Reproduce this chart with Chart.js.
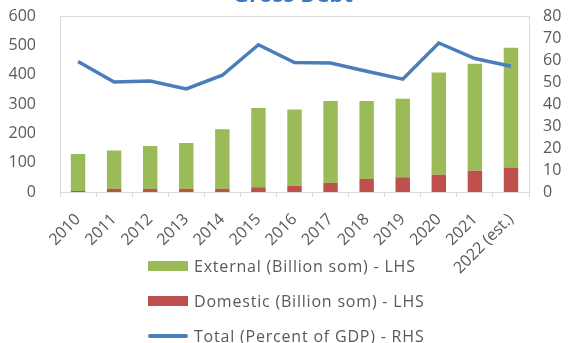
<!DOCTYPE html>
<html>
<head>
<meta charset="utf-8">
<script src="https://cdn.jsdelivr.net/npm/chart.js@4"></script>
<style>
    html, body { margin: 0; padding: 0; background: #fff; }
    #wrap { position: relative; width: 586px; height: 343px; overflow: hidden; }
    #box { position: absolute; left: 0; top: -20px; width: 586px; height: 363px; }
    #legend { position: absolute; left: 148px; top: 248px; font-family: 'Open Sans', sans-serif; font-size: 16px; letter-spacing: 0.8px; color: #595959; }
    .item { height: 35px; display: flex; align-items: center; white-space: nowrap; }
    .swatch { width: 40px; margin-right: 6px; }
</style>
</head>
<body>
<div id="wrap">
    <div id="box"><canvas id="debtChart"></canvas></div>
    <div id="legend"></div>
</div>
<script>
// Gross debt: external + domestic stock (billion som) and total as % of GDP
const years = ['2010', '2011', '2012', '2013', '2014', '2015', '2016', '2017', '2018', '2019', '2020', '2021', '2022 (est.)'];
const externalDebt = [127, 132, 147, 157, 204, 271, 261, 280, 267, 269, 349, 365, 409];
const domesticDebt = [3, 10, 10, 10, 10, 16, 21, 31, 44, 50, 59, 73, 84];
const totalPctGdp = [59.5, 50.1, 50.6, 47.0, 53.2, 67.1, 59.0, 58.8, 55.0, 51.4, 67.9, 60.8, 57.3];

const GREEN = '#9BBB59';
const RED = '#C0504D';
const BLUE = '#4A7EBB';
const TEXT = '#595959';
const EDGE = '#D9D9D9';

Chart.defaults.font.family = "'Open Sans', sans-serif";
Chart.defaults.color = TEXT;

// light frame around the plot area
const plotFrame = {
    id: 'plotFrame',
    beforeDatasetsDraw(chart) {
        const a = chart.chartArea;
        const ctx = chart.ctx;
        ctx.save();
        ctx.strokeStyle = EDGE;
        ctx.lineWidth = 1;
        ctx.strokeRect(Math.round(a.left) + 0.5, Math.round(a.top) + 0.5, Math.round(a.right - a.left), Math.round(a.bottom - a.top));
        ctx.restore();
    }
};

const chart = new Chart(document.getElementById('debtChart'), {
    type: 'bar',
    data: {
        labels: years,
        datasets: [
            {
                type: 'line',
                label: 'Total (Percent of GDP) - RHS',
                data: totalPctGdp,
                yAxisID: 'yRight',
                borderColor: BLUE,
                backgroundColor: BLUE,
                borderWidth: 3.5,
                pointRadius: 0,
                tension: 0,
                order: 0
            },
            {
                label: 'Domestic (Billion som) - LHS',
                data: domesticDebt,
                backgroundColor: RED,
                stack: 'debt',
                yAxisID: 'y',
                barPercentage: 0.4,
                categoryPercentage: 1,
                order: 1
            },
            {
                label: 'External (Billion som) - LHS',
                data: externalDebt,
                backgroundColor: GREEN,
                stack: 'debt',
                yAxisID: 'y',
                barPercentage: 0.4,
                categoryPercentage: 1,
                order: 2
            }
        ]
    },
    options: {
        responsive: true,
        maintainAspectRatio: false,
        animation: false,
        layout: { padding: { top: 0, bottom: 61, left: 0, right: 0 } },
        plugins: {
            legend: { display: false },
            tooltip: { enabled: false },
            title: {
                display: true,
                text: 'Gross Debt',
                color: '#3A78C0',
                font: { size: 22, weight: 'bold' },
                padding: { top: 3, bottom: 7 }
            }
        },
        scales: {
            x: {
                stacked: true,
                grid: { drawOnChartArea: false, drawTicks: true, tickLength: 5, color: EDGE, offset: true },
                border: { display: false },
                ticks: { minRotation: 45, maxRotation: 45, autoSkip: false, padding: 13, font: { size: 16 }, color: TEXT },
                afterFit: (scale) => { scale.height = 90; }
            },
            y: {
                stacked: true,
                position: 'left',
                min: 0,
                max: 600,
                ticks: { stepSize: 100, autoSkip: false, padding: 16, font: { size: 16 }, color: TEXT },
                grid: { display: false },
                border: { display: false },
                afterFit: (scale) => { scale.width = 60; }
            },
            yRight: {
                position: 'right',
                min: 0,
                max: 80,
                ticks: { stepSize: 10, autoSkip: false, padding: 6, font: { size: 16 }, color: TEXT },
                grid: { display: false },
                border: { display: false },
                afterFit: (scale) => { scale.width = 57; }
            }
        }
    },
    plugins: [plotFrame]
});

// legend stacked vertically under the axis, same order as the workbook
const legendOrder = [2, 1, 0];
const legendEl = document.getElementById('legend');
legendOrder.forEach(i => {
    const ds = chart.data.datasets[i];
    const row = document.createElement('div');
    row.className = 'item';
    const sw = document.createElement('span');
    sw.className = 'swatch';
    sw.style.background = ds.backgroundColor;
    sw.style.height = ds.type === 'line' ? '4px' : '10px';
    if (ds.type === 'line') sw.style.borderRadius = '2px';
    row.appendChild(sw);
    row.appendChild(document.createTextNode(ds.label));
    legendEl.appendChild(row);
});
</script>
</body>
</html>
